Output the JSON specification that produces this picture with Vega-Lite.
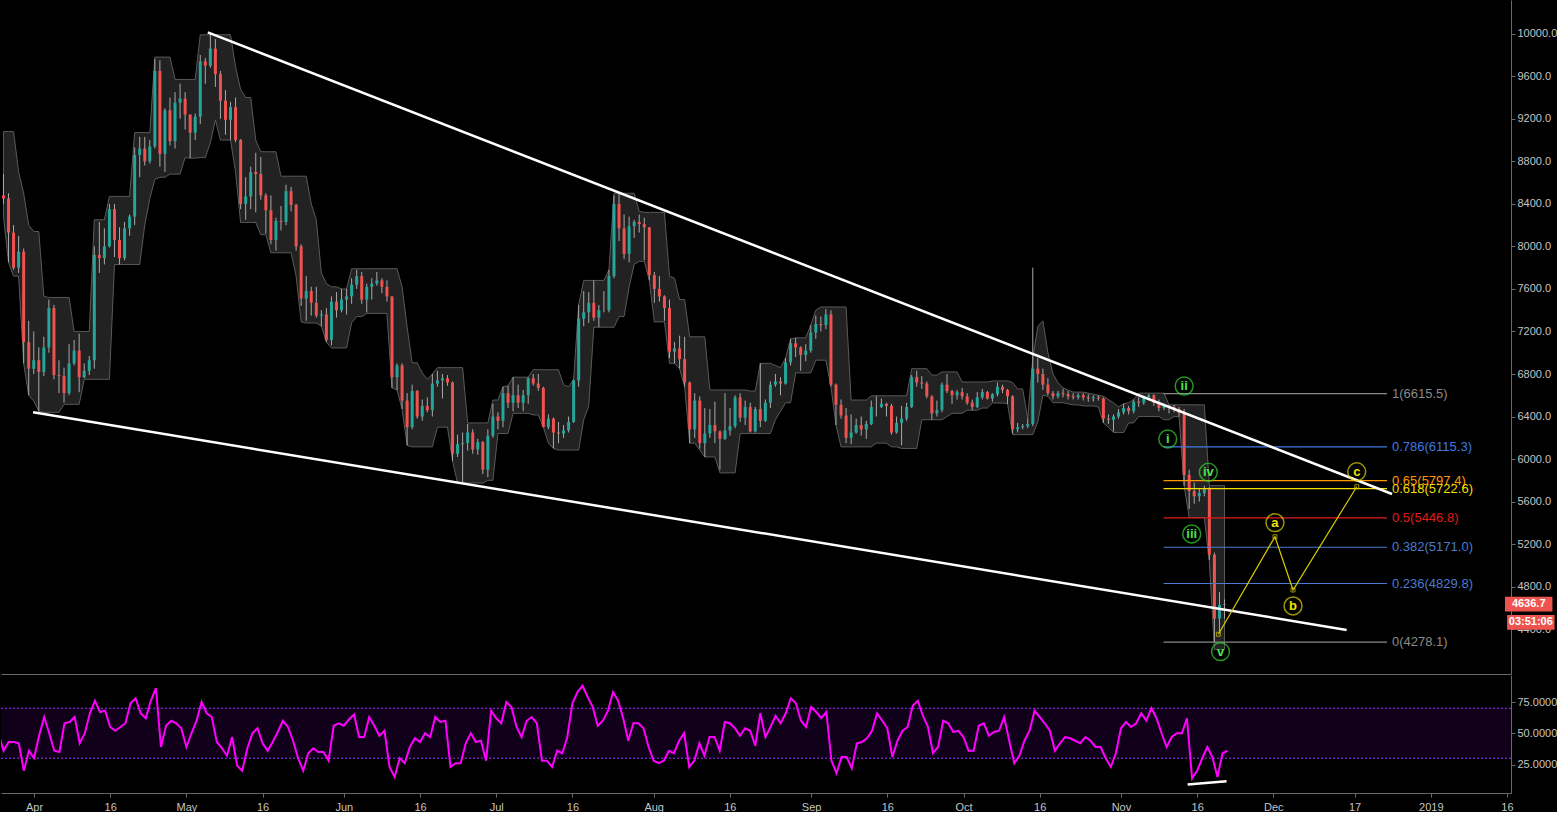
{
"$schema":"https://vega.github.io/schema/vega-lite/v6.json",
"background":"#000000",
"padding":0,
"spacing":1,
"config":{"view":{"stroke":null},"axis":{"grid":false,"labelColor":"#c4c4c4","labelFont":"Liberation Sans","labelFontSize":11,"domainColor":"#6a6a6a","tickColor":"#6a6a6a"}},
"datasets":{
"p":[
{"t":"2018-03-25","o":8480,"h":8680,"l":8400,"c":8450,"bu":9080,"bl":8280,"r":50},
{"t":"2018-03-26","o":8450,"h":8500,"l":7850,"c":8130,"bu":9080,"bl":7850,"r":36},
{"t":"2018-03-27","o":8130,"h":8200,"l":7780,"c":7800,"bu":9080,"bl":7720,"r":43},
{"t":"2018-03-28","o":7800,"h":8100,"l":7750,"c":7950,"bu":8700,"bl":7720,"r":43},
{"t":"2018-03-29","o":7950,"h":7980,"l":6900,"c":7100,"bu":8500,"bl":6900,"r":42},
{"t":"2018-03-30","o":7100,"h":7300,"l":6600,"c":6850,"bu":8200,"bl":6600,"r":20},
{"t":"2018-03-31","o":6850,"h":7200,"l":6800,"c":6930,"bu":8140,"bl":6545,"r":36},
{"t":"2018-04-01","o":6930,"h":7050,"l":6450,"c":6820,"bu":8140,"bl":6450,"r":30},
{"t":"2018-04-02","o":6820,"h":7150,"l":6780,"c":7050,"bu":7530,"bl":6440,"r":48},
{"t":"2018-04-03","o":7050,"h":7500,"l":7000,"c":7420,"bu":7520,"bl":6440,"r":63},
{"t":"2018-04-04","o":7420,"h":7450,"l":6750,"c":6790,"bu":7520,"bl":6440,"r":50},
{"t":"2018-04-05","o":6790,"h":6930,"l":6620,"c":6780,"bu":7520,"bl":6440,"r":36},
{"t":"2018-04-06","o":6780,"h":6860,"l":6530,"c":6620,"bu":7520,"bl":6515,"r":35},
{"t":"2018-04-07","o":6620,"h":7080,"l":6600,"c":6900,"bu":7520,"bl":6515,"r":58},
{"t":"2018-04-08","o":6900,"h":7120,"l":6880,"c":7020,"bu":7200,"bl":6515,"r":59},
{"t":"2018-04-09","o":7020,"h":7180,"l":6630,"c":6770,"bu":7200,"bl":6515,"r":63},
{"t":"2018-04-10","o":6770,"h":6900,"l":6760,"c":6830,"bu":7200,"bl":6750,"r":42},
{"t":"2018-04-11","o":6830,"h":6970,"l":6790,"c":6930,"bu":7200,"bl":6750,"r":50},
{"t":"2018-04-12","o":6930,"h":8000,"l":6850,"c":7920,"bu":8250,"bl":6750,"r":66},
{"t":"2018-04-13","o":7920,"h":8230,"l":7750,"c":7890,"bu":8250,"bl":6750,"r":76},
{"t":"2018-04-14","o":7890,"h":8170,"l":7830,"c":8000,"bu":8250,"bl":6750,"r":67},
{"t":"2018-04-15","o":8000,"h":8400,"l":7990,"c":8350,"bu":8470,"bl":6750,"r":68},
{"t":"2018-04-16","o":8350,"h":8400,"l":7900,"c":8060,"bu":8470,"bl":7830,"r":55},
{"t":"2018-04-17","o":8060,"h":8180,"l":7830,"c":7890,"bu":8470,"bl":7830,"r":52},
{"t":"2018-04-18","o":7890,"h":8230,"l":7870,"c":8170,"bu":8470,"bl":7830,"r":55},
{"t":"2018-04-19","o":8170,"h":8300,"l":8100,"c":8280,"bu":8470,"bl":7830,"r":58},
{"t":"2018-04-20","o":8280,"h":8930,"l":8200,"c":8860,"bu":9070,"bl":7830,"r":74},
{"t":"2018-04-21","o":8860,"h":9030,"l":8650,"c":8920,"bu":9070,"bl":7830,"r":78},
{"t":"2018-04-22","o":8920,"h":9030,"l":8760,"c":8800,"bu":9070,"bl":8200,"r":66},
{"t":"2018-04-23","o":8800,"h":9000,"l":8780,"c":8940,"bu":9070,"bl":8450,"r":62},
{"t":"2018-04-24","o":8940,"h":9760,"l":8920,"c":9650,"bu":9780,"bl":8630,"r":76},
{"t":"2018-04-25","o":9650,"h":9750,"l":8750,"c":8870,"bu":9780,"bl":8650,"r":86},
{"t":"2018-04-26","o":8870,"h":9300,"l":8700,"c":9280,"bu":9780,"bl":8650,"r":39},
{"t":"2018-04-27","o":9280,"h":9400,"l":8950,"c":8990,"bu":9780,"bl":8680,"r":56},
{"t":"2018-04-28","o":8990,"h":9450,"l":8920,"c":9350,"bu":9570,"bl":8680,"r":60},
{"t":"2018-04-29","o":9350,"h":9530,"l":9200,"c":9390,"bu":9570,"bl":8680,"r":58},
{"t":"2018-04-30","o":9390,"h":9450,"l":9100,"c":9240,"bu":9570,"bl":8835,"r":54},
{"t":"2018-05-01","o":9240,"h":9240,"l":8830,"c":9070,"bu":9570,"bl":8830,"r":39},
{"t":"2018-05-02","o":9070,"h":9250,"l":9000,"c":9220,"bu":9570,"bl":8830,"r":50},
{"t":"2018-05-03","o":9220,"h":9800,"l":9150,"c":9740,"bu":9990,"bl":8835,"r":60},
{"t":"2018-05-04","o":9740,"h":9770,"l":9530,"c":9700,"bu":9990,"bl":8835,"r":75},
{"t":"2018-05-05","o":9700,"h":9990,"l":9680,"c":9860,"bu":9990,"bl":8975,"r":66},
{"t":"2018-05-06","o":9860,"h":9950,"l":9500,"c":9620,"bu":9990,"bl":9190,"r":63},
{"t":"2018-05-07","o":9620,"h":9650,"l":9200,"c":9370,"bu":9990,"bl":9000,"r":43},
{"t":"2018-05-08","o":9370,"h":9470,"l":9050,"c":9190,"bu":9990,"bl":9000,"r":38},
{"t":"2018-05-09","o":9190,"h":9360,"l":9000,"c":9310,"bu":9990,"bl":9000,"r":32},
{"t":"2018-05-10","o":9310,"h":9400,"l":8980,"c":9000,"bu":9690,"bl":8700,"r":47},
{"t":"2018-05-11","o":9000,"h":9010,"l":8350,"c":8400,"bu":9475,"bl":8225,"r":24},
{"t":"2018-05-12","o":8400,"h":8650,"l":8250,"c":8470,"bu":9400,"bl":8225,"r":20},
{"t":"2018-05-13","o":8470,"h":8750,"l":8350,"c":8700,"bu":9400,"bl":8225,"r":38},
{"t":"2018-05-14","o":8700,"h":8880,"l":8320,"c":8680,"bu":9000,"bl":8225,"r":50},
{"t":"2018-05-15","o":8680,"h":8840,"l":8440,"c":8480,"bu":8890,"bl":8110,"r":54},
{"t":"2018-05-16","o":8480,"h":8500,"l":8120,"c":8340,"bu":8890,"bl":8110,"r":42},
{"t":"2018-05-17","o":8340,"h":8480,"l":8020,"c":8060,"bu":8890,"bl":7940,"r":36},
{"t":"2018-05-18","o":8060,"h":8270,"l":7960,"c":8240,"bu":8890,"bl":7940,"r":43},
{"t":"2018-05-19","o":8240,"h":8380,"l":8150,"c":8230,"bu":8660,"bl":7940,"r":51},
{"t":"2018-05-20","o":8230,"h":8580,"l":8200,"c":8520,"bu":8660,"bl":7940,"r":60},
{"t":"2018-05-21","o":8520,"h":8560,"l":8330,"c":8390,"bu":8660,"bl":7940,"r":55},
{"t":"2018-05-22","o":8390,"h":8400,"l":7960,"c":8000,"bu":8660,"bl":7720,"r":44},
{"t":"2018-05-23","o":8000,"h":8020,"l":7440,"c":7510,"bu":8660,"bl":7290,"r":30},
{"t":"2018-05-24","o":7510,"h":7720,"l":7300,"c":7580,"bu":8660,"bl":7280,"r":20},
{"t":"2018-05-25","o":7580,"h":7620,"l":7350,"c":7470,"bu":8400,"bl":7280,"r":34},
{"t":"2018-05-26","o":7470,"h":7620,"l":7330,"c":7350,"bu":8250,"bl":7280,"r":38},
{"t":"2018-05-27","o":7350,"h":7400,"l":7250,"c":7360,"bu":7750,"bl":7250,"r":35},
{"t":"2018-05-28","o":7360,"h":7420,"l":7100,"c":7120,"bu":7650,"bl":7100,"r":35},
{"t":"2018-05-29","o":7120,"h":7530,"l":7070,"c":7480,"bu":7620,"bl":7045,"r":28},
{"t":"2018-05-30","o":7480,"h":7570,"l":7330,"c":7400,"bu":7620,"bl":7045,"r":56},
{"t":"2018-05-31","o":7400,"h":7600,"l":7380,"c":7500,"bu":7600,"bl":7045,"r":58},
{"t":"2018-06-01","o":7500,"h":7600,"l":7360,"c":7530,"bu":7600,"bl":7045,"r":56},
{"t":"2018-06-02","o":7530,"h":7700,"l":7460,"c":7640,"bu":7790,"bl":7280,"r":61},
{"t":"2018-06-03","o":7640,"h":7780,"l":7600,"c":7720,"bu":7790,"bl":7340,"r":65},
{"t":"2018-06-04","o":7720,"h":7760,"l":7460,"c":7500,"bu":7790,"bl":7340,"r":47},
{"t":"2018-06-05","o":7500,"h":7650,"l":7380,"c":7620,"bu":7790,"bl":7370,"r":47},
{"t":"2018-06-06","o":7620,"h":7700,"l":7500,"c":7650,"bu":7790,"bl":7370,"r":63},
{"t":"2018-06-07","o":7650,"h":7760,"l":7630,"c":7680,"bu":7790,"bl":7370,"r":56},
{"t":"2018-06-08","o":7680,"h":7700,"l":7560,"c":7620,"bu":7790,"bl":7370,"r":48},
{"t":"2018-06-09","o":7620,"h":7680,"l":7480,"c":7530,"bu":7790,"bl":7370,"r":52},
{"t":"2018-06-10","o":7530,"h":7530,"l":6670,"c":6770,"bu":7790,"bl":6670,"r":23},
{"t":"2018-06-11","o":6770,"h":6900,"l":6650,"c":6880,"bu":7790,"bl":6650,"r":15},
{"t":"2018-06-12","o":6880,"h":6900,"l":6470,"c":6550,"bu":7620,"bl":6470,"r":30},
{"t":"2018-06-13","o":6550,"h":6620,"l":6130,"c":6300,"bu":7240,"bl":6130,"r":26},
{"t":"2018-06-14","o":6300,"h":6700,"l":6280,"c":6640,"bu":6905,"bl":6115,"r":39},
{"t":"2018-06-15","o":6640,"h":6650,"l":6380,"c":6400,"bu":6905,"bl":6115,"r":46},
{"t":"2018-06-16","o":6400,"h":6560,"l":6360,"c":6500,"bu":6810,"bl":6115,"r":43},
{"t":"2018-06-17","o":6500,"h":6580,"l":6440,"c":6460,"bu":6750,"bl":6115,"r":50},
{"t":"2018-06-18","o":6460,"h":6800,"l":6400,"c":6710,"bu":6800,"bl":6115,"r":47},
{"t":"2018-06-19","o":6710,"h":6830,"l":6680,"c":6740,"bu":6860,"bl":6300,"r":63},
{"t":"2018-06-20","o":6740,"h":6800,"l":6570,"c":6760,"bu":6860,"bl":6300,"r":59},
{"t":"2018-06-21","o":6760,"h":6790,"l":6690,"c":6720,"bu":6860,"bl":6300,"r":60},
{"t":"2018-06-22","o":6720,"h":6730,"l":5980,"c":6050,"bu":6860,"bl":5980,"r":23},
{"t":"2018-06-23","o":6050,"h":6230,"l":6020,"c":6140,"bu":6860,"bl":5775,"r":26},
{"t":"2018-06-24","o":6140,"h":6250,"l":5780,"c":6150,"bu":6860,"bl":5775,"r":26},
{"t":"2018-06-25","o":6150,"h":6330,"l":6080,"c":6250,"bu":6340,"bl":5775,"r":42},
{"t":"2018-06-26","o":6250,"h":6280,"l":6050,"c":6090,"bu":6340,"bl":5775,"r":50},
{"t":"2018-06-27","o":6090,"h":6190,"l":6040,"c":6160,"bu":6340,"bl":5775,"r":43},
{"t":"2018-06-28","o":6160,"h":6170,"l":5860,"c":5900,"bu":6340,"bl":5775,"r":44},
{"t":"2018-06-29","o":5900,"h":6280,"l":5830,"c":6220,"bu":6340,"bl":5800,"r":28},
{"t":"2018-06-30","o":6220,"h":6520,"l":6200,"c":6400,"bu":6555,"bl":5800,"r":68},
{"t":"2018-07-01","o":6400,"h":6440,"l":6280,"c":6360,"bu":6555,"bl":6240,"r":62},
{"t":"2018-07-02","o":6360,"h":6680,"l":6300,"c":6620,"bu":6680,"bl":6240,"r":58},
{"t":"2018-07-03","o":6620,"h":6690,"l":6480,"c":6530,"bu":6690,"bl":6240,"r":75},
{"t":"2018-07-04","o":6530,"h":6770,"l":6450,"c":6600,"bu":6770,"bl":6430,"r":71},
{"t":"2018-07-05","o":6600,"h":6700,"l":6480,"c":6530,"bu":6770,"bl":6430,"r":55},
{"t":"2018-07-06","o":6530,"h":6650,"l":6450,"c":6600,"bu":6770,"bl":6430,"r":47},
{"t":"2018-07-07","o":6600,"h":6770,"l":6520,"c":6760,"bu":6770,"bl":6430,"r":60},
{"t":"2018-07-08","o":6760,"h":6800,"l":6690,"c":6710,"bu":6840,"bl":6415,"r":63},
{"t":"2018-07-09","o":6710,"h":6800,"l":6640,"c":6670,"bu":6840,"bl":6415,"r":58},
{"t":"2018-07-10","o":6670,"h":6680,"l":6300,"c":6300,"bu":6840,"bl":6300,"r":28},
{"t":"2018-07-11","o":6300,"h":6420,"l":6280,"c":6380,"bu":6840,"bl":6150,"r":28},
{"t":"2018-07-12","o":6380,"h":6390,"l":6100,"c":6250,"bu":6840,"bl":6100,"r":23},
{"t":"2018-07-13","o":6250,"h":6350,"l":6150,"c":6240,"bu":6840,"bl":6085,"r":36},
{"t":"2018-07-14","o":6240,"h":6320,"l":6200,"c":6270,"bu":6700,"bl":6085,"r":34},
{"t":"2018-07-15","o":6270,"h":6400,"l":6250,"c":6350,"bu":6680,"bl":6085,"r":47},
{"t":"2018-07-16","o":6350,"h":6750,"l":6340,"c":6740,"bu":6750,"bl":6085,"r":74},
{"t":"2018-07-17","o":6740,"h":7450,"l":6680,"c":7320,"bu":7450,"bl":6085,"r":83},
{"t":"2018-07-18","o":7320,"h":7580,"l":7250,"c":7380,"bu":7680,"bl":6370,"r":88},
{"t":"2018-07-19","o":7380,"h":7570,"l":7280,"c":7470,"bu":7680,"bl":6500,"r":79},
{"t":"2018-07-20","o":7470,"h":7680,"l":7300,"c":7330,"bu":7680,"bl":7240,"r":71},
{"t":"2018-07-21","o":7330,"h":7450,"l":7240,"c":7400,"bu":7680,"bl":7240,"r":56},
{"t":"2018-07-22","o":7400,"h":7580,"l":7380,"c":7400,"bu":7680,"bl":7240,"r":60},
{"t":"2018-07-23","o":7400,"h":7780,"l":7380,"c":7720,"bu":7780,"bl":7240,"r":68},
{"t":"2018-07-24","o":7720,"h":8480,"l":7700,"c":8400,"bu":8500,"bl":7240,"r":83},
{"t":"2018-07-25","o":8400,"h":8500,"l":8050,"c":8170,"bu":8500,"bl":7340,"r":76},
{"t":"2018-07-26","o":8170,"h":8300,"l":7880,"c":7930,"bu":8500,"bl":7340,"r":62},
{"t":"2018-07-27","o":7930,"h":8280,"l":7850,"c":8190,"bu":8500,"bl":7620,"r":44},
{"t":"2018-07-28","o":8190,"h":8250,"l":8080,"c":8230,"bu":8500,"bl":7830,"r":58},
{"t":"2018-07-29","o":8230,"h":8300,"l":8130,"c":8210,"bu":8330,"bl":7860,"r":58},
{"t":"2018-07-30","o":8210,"h":8270,"l":7870,"c":8180,"bu":8320,"bl":7860,"r":54},
{"t":"2018-07-31","o":8180,"h":8180,"l":7680,"c":7730,"bu":8320,"bl":7680,"r":39},
{"t":"2018-08-01","o":7730,"h":7760,"l":7470,"c":7600,"bu":8320,"bl":7290,"r":28},
{"t":"2018-08-02","o":7600,"h":7720,"l":7480,"c":7530,"bu":8320,"bl":7290,"r":26},
{"t":"2018-08-03","o":7530,"h":7540,"l":7300,"c":7420,"bu":8320,"bl":7290,"r":28},
{"t":"2018-08-04","o":7420,"h":7500,"l":6950,"c":7010,"bu":7720,"bl":6900,"r":36},
{"t":"2018-08-05","o":7010,"h":7100,"l":6900,"c":7040,"bu":7700,"bl":6900,"r":34},
{"t":"2018-08-06","o":7040,"h":7160,"l":6850,"c":6940,"bu":7500,"bl":6850,"r":44},
{"t":"2018-08-07","o":6940,"h":7150,"l":6680,"c":6720,"bu":7500,"bl":6680,"r":50},
{"t":"2018-08-08","o":6720,"h":6730,"l":6150,"c":6280,"bu":7150,"bl":6150,"r":23},
{"t":"2018-08-09","o":6280,"h":6620,"l":6200,"c":6550,"bu":7150,"bl":6150,"r":28},
{"t":"2018-08-10","o":6550,"h":6590,"l":6100,"c":6150,"bu":7150,"bl":6085,"r":42},
{"t":"2018-08-11","o":6150,"h":6480,"l":6020,"c":6240,"bu":7150,"bl":6020,"r":32},
{"t":"2018-08-12","o":6240,"h":6470,"l":6200,"c":6320,"bu":6650,"bl":6020,"r":47},
{"t":"2018-08-13","o":6320,"h":6540,"l":6150,"c":6260,"bu":6650,"bl":6020,"r":47},
{"t":"2018-08-14","o":6260,"h":6270,"l":5900,"c":6190,"bu":6650,"bl":5870,"r":36},
{"t":"2018-08-15","o":6190,"h":6620,"l":6180,"c":6270,"bu":6650,"bl":5870,"r":59},
{"t":"2018-08-16","o":6270,"h":6480,"l":6220,"c":6310,"bu":6650,"bl":5870,"r":58},
{"t":"2018-08-17","o":6310,"h":6600,"l":6290,"c":6580,"bu":6650,"bl":5870,"r":54},
{"t":"2018-08-18","o":6580,"h":6620,"l":6350,"c":6390,"bu":6650,"bl":6240,"r":48},
{"t":"2018-08-19","o":6390,"h":6550,"l":6320,"c":6490,"bu":6650,"bl":6240,"r":54},
{"t":"2018-08-20","o":6490,"h":6530,"l":6250,"c":6260,"bu":6640,"bl":6240,"r":52},
{"t":"2018-08-21","o":6260,"h":6490,"l":6250,"c":6470,"bu":6640,"bl":6240,"r":40},
{"t":"2018-08-22","o":6470,"h":6900,"l":6300,"c":6360,"bu":6900,"bl":6240,"r":66},
{"t":"2018-08-23","o":6360,"h":6560,"l":6350,"c":6530,"bu":6900,"bl":6240,"r":47},
{"t":"2018-08-24","o":6530,"h":6730,"l":6480,"c":6700,"bu":6900,"bl":6240,"r":55},
{"t":"2018-08-25","o":6700,"h":6800,"l":6680,"c":6730,"bu":6880,"bl":6370,"r":64},
{"t":"2018-08-26","o":6730,"h":6770,"l":6600,"c":6710,"bu":6860,"bl":6450,"r":58},
{"t":"2018-08-27","o":6710,"h":6950,"l":6700,"c":6910,"bu":6950,"bl":6530,"r":66},
{"t":"2018-08-28","o":6910,"h":7130,"l":6880,"c":7090,"bu":7130,"bl":6530,"r":78},
{"t":"2018-08-29","o":7090,"h":7140,"l":6960,"c":7050,"bu":7140,"bl":6810,"r":74},
{"t":"2018-08-30","o":7050,"h":7060,"l":6830,"c":6980,"bu":7140,"bl":6810,"r":60},
{"t":"2018-08-31","o":6980,"h":7080,"l":6920,"c":7020,"bu":7140,"bl":6810,"r":55},
{"t":"2018-09-01","o":7020,"h":7260,"l":7000,"c":7190,"bu":7260,"bl":6810,"r":71},
{"t":"2018-09-02","o":7190,"h":7350,"l":7130,"c":7270,"bu":7400,"bl":6930,"r":67},
{"t":"2018-09-03","o":7270,"h":7340,"l":7200,"c":7260,"bu":7430,"bl":6930,"r":62},
{"t":"2018-09-04","o":7260,"h":7410,"l":7220,"c":7360,"bu":7430,"bl":6930,"r":67},
{"t":"2018-09-05","o":7360,"h":7400,"l":6680,"c":6700,"bu":7430,"bl":6680,"r":28},
{"t":"2018-09-06","o":6700,"h":6710,"l":6320,"c":6510,"bu":7430,"bl":6320,"r":18},
{"t":"2018-09-07","o":6510,"h":6560,"l":6380,"c":6410,"bu":7430,"bl":6115,"r":31},
{"t":"2018-09-08","o":6410,"h":6480,"l":6150,"c":6200,"bu":7430,"bl":6115,"r":31},
{"t":"2018-09-09","o":6200,"h":6420,"l":6140,"c":6250,"bu":6555,"bl":6115,"r":22},
{"t":"2018-09-10","o":6250,"h":6380,"l":6240,"c":6320,"bu":6555,"bl":6115,"r":42},
{"t":"2018-09-11","o":6320,"h":6400,"l":6220,"c":6280,"bu":6555,"bl":6115,"r":43},
{"t":"2018-09-12","o":6280,"h":6360,"l":6190,"c":6330,"bu":6555,"bl":6115,"r":46},
{"t":"2018-09-13","o":6330,"h":6550,"l":6320,"c":6490,"bu":6595,"bl":6115,"r":52},
{"t":"2018-09-14","o":6490,"h":6590,"l":6400,"c":6490,"bu":6595,"bl":6150,"r":66},
{"t":"2018-09-15","o":6490,"h":6570,"l":6480,"c":6520,"bu":6595,"bl":6150,"r":60},
{"t":"2018-09-16","o":6520,"h":6530,"l":6400,"c":6500,"bu":6595,"bl":6150,"r":54},
{"t":"2018-09-17","o":6500,"h":6520,"l":6230,"c":6250,"bu":6595,"bl":6115,"r":31},
{"t":"2018-09-18","o":6250,"h":6400,"l":6240,"c":6340,"bu":6595,"bl":6115,"r":44},
{"t":"2018-09-19","o":6340,"h":6500,"l":6130,"c":6380,"bu":6595,"bl":6100,"r":52},
{"t":"2018-09-20","o":6380,"h":6530,"l":6360,"c":6490,"bu":6595,"bl":6100,"r":55},
{"t":"2018-09-21","o":6490,"h":6790,"l":6480,"c":6770,"bu":6850,"bl":6100,"r":72},
{"t":"2018-09-22","o":6770,"h":6830,"l":6680,"c":6720,"bu":6850,"bl":6100,"r":76},
{"t":"2018-09-23","o":6720,"h":6780,"l":6660,"c":6710,"bu":6850,"bl":6370,"r":64},
{"t":"2018-09-24","o":6710,"h":6730,"l":6570,"c":6590,"bu":6850,"bl":6370,"r":55},
{"t":"2018-09-25","o":6590,"h":6600,"l":6370,"c":6430,"bu":6790,"bl":6370,"r":34},
{"t":"2018-09-26","o":6430,"h":6550,"l":6400,"c":6460,"bu":6790,"bl":6370,"r":39},
{"t":"2018-09-27","o":6460,"h":6720,"l":6440,"c":6700,"bu":6820,"bl":6370,"r":60},
{"t":"2018-09-28","o":6700,"h":6800,"l":6620,"c":6640,"bu":6820,"bl":6400,"r":58},
{"t":"2018-09-29","o":6640,"h":6650,"l":6520,"c":6600,"bu":6820,"bl":6430,"r":51},
{"t":"2018-09-30","o":6600,"h":6650,"l":6560,"c":6630,"bu":6820,"bl":6430,"r":52},
{"t":"2018-10-01","o":6630,"h":6670,"l":6560,"c":6590,"bu":6725,"bl":6430,"r":47},
{"t":"2018-10-02","o":6590,"h":6620,"l":6510,"c":6530,"bu":6725,"bl":6460,"r":36},
{"t":"2018-10-03","o":6530,"h":6560,"l":6460,"c":6490,"bu":6725,"bl":6460,"r":36},
{"t":"2018-10-04","o":6490,"h":6630,"l":6480,"c":6580,"bu":6725,"bl":6460,"r":56},
{"t":"2018-10-05","o":6580,"h":6660,"l":6560,"c":6630,"bu":6725,"bl":6480,"r":58},
{"t":"2018-10-06","o":6630,"h":6640,"l":6560,"c":6570,"bu":6725,"bl":6480,"r":48},
{"t":"2018-10-07","o":6570,"h":6620,"l":6540,"c":6610,"bu":6735,"bl":6527,"r":51},
{"t":"2018-10-08","o":6610,"h":6720,"l":6590,"c":6680,"bu":6735,"bl":6527,"r":52},
{"t":"2018-10-09","o":6680,"h":6700,"l":6620,"c":6650,"bu":6735,"bl":6527,"r":63},
{"t":"2018-10-10","o":6650,"h":6660,"l":6520,"c":6590,"bu":6735,"bl":6520,"r":44},
{"t":"2018-10-11","o":6590,"h":6600,"l":6240,"c":6280,"bu":6720,"bl":6230,"r":26},
{"t":"2018-10-12","o":6280,"h":6340,"l":6250,"c":6300,"bu":6660,"bl":6230,"r":32},
{"t":"2018-10-13","o":6300,"h":6330,"l":6280,"c":6310,"bu":6660,"bl":6230,"r":44},
{"t":"2018-10-14","o":6310,"h":6380,"l":6290,"c":6330,"bu":6380,"bl":6230,"r":52},
{"t":"2018-10-15","o":6330,"h":7800,"l":6310,"c":6850,"bu":6950,"bl":6230,"r":68},
{"t":"2018-10-16","o":6850,"h":6950,"l":6720,"c":6800,"bu":7250,"bl":6350,"r":63},
{"t":"2018-10-17","o":6800,"h":6850,"l":6650,"c":6700,"bu":7300,"bl":6600,"r":58},
{"t":"2018-10-18","o":6700,"h":6760,"l":6600,"c":6620,"bu":7000,"bl":6590,"r":52},
{"t":"2018-10-19","o":6620,"h":6640,"l":6560,"c":6590,"bu":6800,"bl":6530,"r":36},
{"t":"2018-10-20","o":6590,"h":6640,"l":6570,"c":6620,"bu":6720,"bl":6530,"r":42},
{"t":"2018-10-21","o":6620,"h":6660,"l":6580,"c":6610,"bu":6670,"bl":6530,"r":47},
{"t":"2018-10-22","o":6610,"h":6640,"l":6560,"c":6590,"bu":6650,"bl":6520,"r":46},
{"t":"2018-10-23","o":6590,"h":6620,"l":6560,"c":6580,"bu":6630,"bl":6510,"r":44},
{"t":"2018-10-24","o":6580,"h":6620,"l":6560,"c":6600,"bu":6630,"bl":6510,"r":42},
{"t":"2018-10-25","o":6600,"h":6620,"l":6550,"c":6580,"bu":6630,"bl":6500,"r":47},
{"t":"2018-10-26","o":6580,"h":6610,"l":6540,"c":6570,"bu":6620,"bl":6500,"r":44},
{"t":"2018-10-27","o":6570,"h":6600,"l":6540,"c":6580,"bu":6610,"bl":6500,"r":39},
{"t":"2018-10-28","o":6580,"h":6600,"l":6550,"c":6570,"bu":6600,"bl":6490,"r":39},
{"t":"2018-10-29","o":6570,"h":6580,"l":6340,"c":6380,"bu":6590,"bl":6340,"r":30},
{"t":"2018-10-30","o":6380,"h":6420,"l":6330,"c":6370,"bu":6560,"bl":6300,"r":23},
{"t":"2018-10-31","o":6370,"h":6420,"l":6260,"c":6400,"bu":6530,"bl":6250,"r":34},
{"t":"2018-11-01","o":6400,"h":6470,"l":6380,"c":6440,"bu":6490,"bl":6250,"r":54},
{"t":"2018-11-02","o":6440,"h":6520,"l":6420,"c":6480,"bu":6520,"bl":6250,"r":59},
{"t":"2018-11-03","o":6480,"h":6500,"l":6420,"c":6450,"bu":6530,"bl":6340,"r":55},
{"t":"2018-11-04","o":6450,"h":6560,"l":6430,"c":6540,"bu":6560,"bl":6340,"r":58},
{"t":"2018-11-05","o":6540,"h":6580,"l":6490,"c":6530,"bu":6620,"bl":6400,"r":66},
{"t":"2018-11-06","o":6530,"h":6590,"l":6510,"c":6580,"bu":6620,"bl":6400,"r":60},
{"t":"2018-11-07","o":6580,"h":6615,"l":6560,"c":6600,"bu":6620,"bl":6400,"r":70},
{"t":"2018-11-08","o":6600,"h":6610,"l":6500,"c":6530,"bu":6620,"bl":6400,"r":62},
{"t":"2018-11-09","o":6530,"h":6560,"l":6450,"c":6480,"bu":6620,"bl":6400,"r":50},
{"t":"2018-11-10","o":6480,"h":6520,"l":6460,"c":6500,"bu":6620,"bl":6370,"r":39},
{"t":"2018-11-11","o":6500,"h":6510,"l":6430,"c":6490,"bu":6510,"bl":6370,"r":47},
{"t":"2018-11-12","o":6490,"h":6510,"l":6440,"c":6470,"bu":6510,"bl":6400,"r":50},
{"t":"2018-11-13","o":6470,"h":6490,"l":6400,"c":6430,"bu":6510,"bl":6400,"r":50},
{"t":"2018-11-14","o":6430,"h":6470,"l":5750,"c":5850,"bu":6510,"bl":5750,"r":62},
{"t":"2018-11-15","o":5850,"h":5900,"l":5530,"c":5700,"bu":6510,"bl":5450,"r":14},
{"t":"2018-11-16","o":5700,"h":5780,"l":5580,"c":5650,"bu":6510,"bl":5450,"r":20},
{"t":"2018-11-17","o":5650,"h":5720,"l":5600,"c":5680,"bu":6510,"bl":5450,"r":30},
{"t":"2018-11-18","o":5680,"h":5750,"l":5650,"c":5720,"bu":6510,"bl":5450,"r":39},
{"t":"2018-11-19","o":5720,"h":5740,"l":5050,"c":5100,"bu":5750,"bl":5030,"r":31},
{"t":"2018-11-20","o":5100,"h":5120,"l":4278,"c":4500,"bu":5750,"bl":4210,"r":15},
{"t":"2018-11-21","o":4500,"h":4750,"l":4380,"c":4630,"bu":5750,"bl":4210,"r":34},
{"t":"2018-11-22","o":4630,"h":4680,"l":4500,"c":4637,"bu":5750,"bl":4210,"r":36}
],
"fib":[
{"k":"1(6615.5)","p":6615.5,"t1":"2018-11-09T22:00:00Z","t2":"2018-12-24T05:00:00Z"},
{"k":"0.786(6115.3)","p":6115.3,"t1":"2018-11-09T22:00:00Z","t2":"2018-12-24T05:00:00Z"},
{"k":"0.65(5797.4)","p":5797.4,"t1":"2018-11-09T22:00:00Z","t2":"2018-12-24T05:00:00Z"},
{"k":"0.618(5722.6)","p":5722.6,"t1":"2018-11-09T22:00:00Z","t2":"2018-12-24T05:00:00Z"},
{"k":"0.5(5446.8)","p":5446.8,"t1":"2018-11-09T22:00:00Z","t2":"2018-12-24T05:00:00Z"},
{"k":"0.382(5171.0)","p":5171.0,"t1":"2018-11-09T22:00:00Z","t2":"2018-12-24T05:00:00Z"},
{"k":"0.236(4829.8)","p":4829.8,"t1":"2018-11-09T22:00:00Z","t2":"2018-12-24T05:00:00Z"},
{"k":"0(4278.1)","p":4278.1,"t1":"2018-11-09T22:00:00Z","t2":"2018-12-24T05:00:00Z"}
],
"tl":[
{"g":"u","t":"2018-05-04T12:00:00Z","p":10012},
{"g":"u","t":"2018-12-25T05:00:00Z","p":5672},
{"g":"l","t":"2018-03-30T21:00:00Z","p":6440},
{"g":"l","t":"2018-12-16T05:00:00Z","p":4393}
],
"abc":[
{"t":"2018-11-20T19:00:00Z","p":4353},
{"t":"2018-12-02T00:00:00Z","p":5270},
{"t":"2018-12-05T14:00:00Z","p":4769},
{"t":"2018-12-18T05:00:00Z","p":5740}
],
"wg":[
{"w":"ii","t":"2018-11-14T00:00:00Z","p":6687},
{"w":"i","t":"2018-11-10T18:00:00Z","p":6189},
{"w":"iv","t":"2018-11-18T19:00:00Z","p":5876},
{"w":"iii","t":"2018-11-15T12:00:00Z","p":5296},
{"w":"v","t":"2018-11-21T05:00:00Z","p":4189}
],
"wy":[
{"w":"a","t":"2018-12-02T00:00:00Z","p":5402},
{"w":"b","t":"2018-12-05T14:00:00Z","p":4619},
{"w":"c","t":"2018-12-18T05:00:00Z","p":5881}
],
"lab":[
{"k":"4636.7","t":"2019-01-21T07:00:00Z","p":4636.7},
{"k":"03:51:06","t":"2019-01-21T17:00:00Z","p":4463.6}
],
"rw":[
{"t":"2018-11-14T03:00:00Z","r":9.0},
{"t":"2018-11-21T19:00:00Z","r":11.6}
]
},
"vconcat":[
{
"width":1510,"height":674,
"layer":[
{"data":{"name":"p"},"mark":{"type":"area","clip":true,"fill":"#222222","stroke":"#5a5a5a","strokeWidth":1},
 "encoding":{
  "x":{"field":"t","type":"temporal","scale":{"type":"utc","domain":[{"year":2018,"month":3,"date":25,"hours":12,"utc":true},{"year":2019,"month":1,"date":16,"hours":19,"utc":true}]},"axis":{"labels":false,"ticks":false,"title":null,"domainColor":"#6a6a6a"}},
  "y":{"field":"bu","type":"quantitative","scale":{"domain":[3979,10317],"nice":false,"zero":false},"axis":{"orient":"right","title":null,"values":[4400,4800,5200,5600,6000,6400,6800,7200,7600,8000,8400,8800,9200,9600,10000],"format":".1f","tickSize":4,"labelPadding":2}},
  "y2":{"field":"bl"}}},
{"data":{"name":"p"},"mark":{"type":"rule","clip":true,"color":"#a9a9a9","strokeWidth":1},
 "encoding":{"x":{"field":"t","type":"temporal"},"y":{"field":"l","type":"quantitative"},"y2":{"field":"h"}}},
{"data":{"name":"p"},"mark":{"type":"bar","clip":true,"size":3},
 "encoding":{"x":{"field":"t","type":"temporal"},"y":{"field":"o","type":"quantitative"},"y2":{"field":"c"},
  "color":{"condition":{"test":"datum.c >= datum.o","value":"#26a69a"},"value":"#ef5350"}}},
{"data":{"name":"fib"},"mark":{"type":"rule","strokeWidth":1.2},
 "encoding":{"x":{"field":"t1","type":"temporal"},"x2":{"field":"t2"},"y":{"field":"p","type":"quantitative"},
  "color":{"field":"k","type":"nominal","legend":null,"scale":{"domain":["1(6615.5)","0.786(6115.3)","0.65(5797.4)","0.618(5722.6)","0.5(5446.8)","0.382(5171.0)","0.236(4829.8)","0(4278.1)"],"range":["#8a8a8a","#3f7ae0","#ff9800","#f2df00","#e01b1b","#4a7bd0","#4a7bd0","#8a8a8a"]}}}},
{"data":{"name":"fib"},"mark":{"type":"text","align":"left","baseline":"middle","dx":5,"fontSize":13,"font":"Liberation Sans"},
 "encoding":{"x":{"field":"t2","type":"temporal"},"y":{"field":"p","type":"quantitative"},"text":{"field":"k"},
  "color":{"field":"k","type":"nominal","legend":null}}},
{"data":{"name":"tl"},"mark":{"type":"line","color":"#ffffff","strokeWidth":2.5},
 "encoding":{"x":{"field":"t","type":"temporal"},"y":{"field":"p","type":"quantitative"},"detail":{"field":"g"}}},
{"data":{"name":"abc"},"mark":{"type":"line","color":"#d8cc00","strokeWidth":1.2},
 "encoding":{"x":{"field":"t","type":"temporal"},"y":{"field":"p","type":"quantitative"}}},
{"data":{"name":"abc"},"mark":{"type":"point","shape":"square","size":16,"filled":false,"color":"#d8cc00","strokeWidth":1},
 "encoding":{"x":{"field":"t","type":"temporal"},"y":{"field":"p","type":"quantitative"}}},
{"data":{"name":"wg"},"mark":{"type":"point","shape":"circle","size":320,"filled":false,"color":"#33d633","strokeWidth":1.5},
 "encoding":{"x":{"field":"t","type":"temporal"},"y":{"field":"p","type":"quantitative"}}},
{"data":{"name":"wg"},"mark":{"type":"text","color":"#4de34d","fontSize":13,"fontWeight":"bold","font":"Liberation Sans","baseline":"middle","align":"center"},
 "encoding":{"x":{"field":"t","type":"temporal"},"y":{"field":"p","type":"quantitative"},"text":{"field":"w"}}},
{"data":{"name":"wy"},"mark":{"type":"point","shape":"circle","size":320,"filled":false,"color":"#e3d400","strokeWidth":1.5},
 "encoding":{"x":{"field":"t","type":"temporal"},"y":{"field":"p","type":"quantitative"}}},
{"data":{"name":"wy"},"mark":{"type":"text","color":"#f2e300","fontSize":13,"fontWeight":"bold","font":"Liberation Sans","baseline":"middle","align":"center"},
 "encoding":{"x":{"field":"t","type":"temporal"},"y":{"field":"p","type":"quantitative"},"text":{"field":"w"}}},
{"data":{"name":"lab"},"mark":{"type":"point","shape":"M-1,-0.31H1V0.31H-1Z","size":2250,"filled":true,"color":"#ef5350","opacity":1},
 "encoding":{"x":{"field":"t","type":"temporal"},"y":{"field":"p","type":"quantitative"}}},
{"data":{"name":"lab"},"mark":{"type":"text","color":"#ffffff","fontSize":11,"fontWeight":"bold","font":"Liberation Sans","baseline":"middle","align":"center"},
 "encoding":{"x":{"field":"t","type":"temporal"},"y":{"field":"p","type":"quantitative"},"text":{"field":"k"}}}
]
},
{
"width":1510,"height":118,
"layer":[
{"data":{"values":[{"a":30,"b":70}]},"mark":{"type":"rect","fill":"#10001a"},
 "encoding":{"y":{"field":"a","type":"quantitative","scale":{"domain":[2.2,96.6],"nice":false,"zero":false},"axis":{"orient":"right","title":null,"values":[25,50,75],"format":".4f","tickSize":4,"labelPadding":2}},"y2":{"field":"b"}}},
{"data":{"values":[{"v":30},{"v":70}]},"mark":{"type":"rule","color":"#9b30ff","strokeDash":[2,2],"strokeWidth":1},
 "encoding":{"y":{"field":"v","type":"quantitative"}}},
{"data":{"name":"p"},"mark":{"type":"line","clip":true,"color":"#ff00ff","strokeWidth":2},
 "encoding":{
  "x":{"field":"t","type":"temporal","scale":{"type":"utc","domain":[{"year":2018,"month":3,"date":25,"hours":12,"utc":true},{"year":2019,"month":1,"date":16,"hours":19,"utc":true}]},
   "axis":{"title":null,"tickSize":4,"labelPadding":4,"labelFontSize":11,
    "values":[{"year":2018,"month":4,"date":1,"utc":true},{"year":2018,"month":4,"date":16,"utc":true},{"year":2018,"month":5,"date":1,"utc":true},{"year":2018,"month":5,"date":16,"utc":true},{"year":2018,"month":6,"date":1,"utc":true},{"year":2018,"month":6,"date":16,"utc":true},{"year":2018,"month":7,"date":1,"utc":true},{"year":2018,"month":7,"date":16,"utc":true},{"year":2018,"month":8,"date":1,"utc":true},{"year":2018,"month":8,"date":16,"utc":true},{"year":2018,"month":9,"date":1,"utc":true},{"year":2018,"month":9,"date":16,"utc":true},{"year":2018,"month":10,"date":1,"utc":true},{"year":2018,"month":10,"date":16,"utc":true},{"year":2018,"month":11,"date":1,"utc":true},{"year":2018,"month":11,"date":16,"utc":true},{"year":2018,"month":12,"date":1,"utc":true},{"year":2018,"month":12,"date":17,"utc":true},{"year":2019,"month":1,"date":1,"utc":true},{"year":2019,"month":1,"date":16,"utc":true}],
    "labelExpr":"utcdate(datum.value) == 1 ? (utcmonth(datum.value) == 0 ? utcFormat(datum.value, '%Y') : utcFormat(datum.value, '%b')) : utcFormat(datum.value, '%d')"}},
  "y":{"field":"r","type":"quantitative"}}},
{"data":{"name":"rw"},"mark":{"type":"line","color":"#ffffff","strokeWidth":2.5},
 "encoding":{"x":{"field":"t","type":"temporal"},"y":{"field":"r","type":"quantitative"}}}
]
}
]
}
